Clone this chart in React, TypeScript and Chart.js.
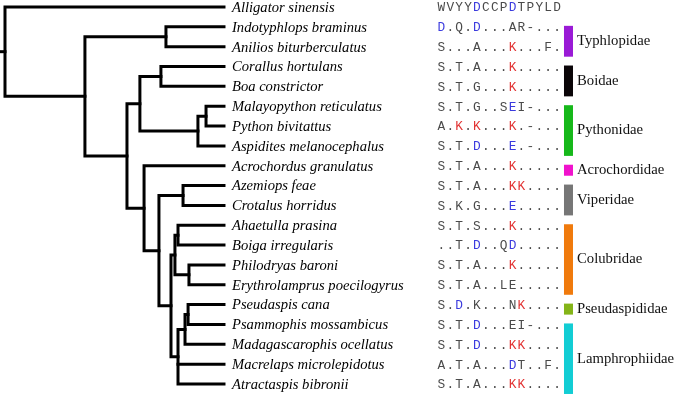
import React, { useEffect, useRef } from "react";
import Chart from "chart.js/auto";

const taxa = [
  "Alligator sinensis",
  "Indotyphlops braminus",
  "Anilios biturberculatus",
  "Corallus hortulans",
  "Boa constrictor",
  "Malayopython reticulatus",
  "Python bivitattus",
  "Aspidites melanocephalus",
  "Acrochordus granulatus",
  "Azemiops feae",
  "Crotalus horridus",
  "Ahaetulla prasina",
  "Boiga irregularis",
  "Philodryas baroni",
  "Erythrolamprus poecilogyrus",
  "Pseudaspis cana",
  "Psammophis mossambicus",
  "Madagascarophis ocellatus",
  "Macrelaps microlepidotus",
  "Atractaspis bibronii",
];

const alignment = [
  "WVYYDCCPDTPYLD",
  "D.Q.D...AR-...",
  "S...A...K...F.",
  "S.T.A...K.....",
  "S.T.G...K.....",
  "S.T.G..SEI-...",
  "A.K.K...K.-...",
  "S.T.D...E.-...",
  "S.T.A...K.....",
  "S.T.A...KK....",
  "S.K.G...E.....",
  "S.T.S...K.....",
  "..T.D..QD.....",
  "S.T.A...K.....",
  "S.T.A..LE.....",
  "S.D.K...NK....",
  "S.T.D...EI-...",
  "S.T.D...KK....",
  "A.T.A...DT..F.",
  "S.T.A...KK....",
];

// b = blue residue, r = red residue, . = default
const alignmentColors = [
  "....b...b.....",
  "b...b.........",
  "........r.....",
  "........r.....",
  "........r.....",
  "........b.....",
  "..r.r...r.....",
  "....b...b.....",
  "........r.....",
  "........rr....",
  "........b.....",
  "........r.....",
  "....b...b.....",
  "........r.....",
  "..............",
  "..b......r....",
  "....b.........",
  "....b...rr....",
  "........b.....",
  "........rr....",
];

const familyNames = ["Typhlopidae", "Boidae", "Pythonidae", "Acrochordidae", "Viperidae", "Colubridae", "Pseudaspididae", "Lamphrophiidae"];
const familyFirst = [1, 3, 5, 8, 9, 11, 15, 16];
const familyLast = [2, 4, 7, 8, 10, 14, 15, 19];
const familyColors = ["#9a1ad6", "#0a0508", "#16b81a", "#f012cc", "#767676", "#f07a0c", "#84b418", "#12cdd4"];

// tree: internal nodes with depth (root = 0, tips = 1) and children (tN = taxon row N)
const nodeIds = ["R", "N1", "T", "N2", "N3", "B", "Py", "Py2", "N4", "N5", "V", "N6", "C1", "C2", "C3", "L1", "L2", "L3"];
const nodeDepths = [0, 0.365, 0.735, 0.557, 0.616, 0.712, 0.881, 0.918, 0.635, 0.703, 0.813, 0.758, 0.776, 0.79, 0.84, 0.79, 0.822, 0.836];
const nodeChildren = [
  ["t0", "N1"],
  ["T", "N2"],
  ["t1", "t2"],
  ["N3", "N4"],
  ["B", "Py"],
  ["t3", "t4"],
  ["Py2", "t7"],
  ["t5", "t6"],
  ["t8", "N5"],
  ["V", "N6"],
  ["t9", "t10"],
  ["C1", "L1"],
  ["C2", "C3"],
  ["t11", "t12"],
  ["t13", "t14"],
  ["L2", "t18", "t19"],
  ["L3", "t17"],
  ["t15", "t16"],
];
const tipDepth = 1;
const rootStub = -0.018;

function depthOf(id: string): number {
  if (id.startsWith("t")) return tipDepth;
  return nodeDepths[nodeIds.indexOf(id)];
}
function yOf(id: string): number {
  if (id.startsWith("t")) return parseInt(id.slice(1), 10);
  const ch = nodeChildren[nodeIds.indexOf(id)];
  return (yOf(ch[0]) + yOf(ch[ch.length - 1])) / 2;
}

function buildDatasets() {
  const base = {
    borderColor: "#000",
    borderWidth: 3,
    pointRadius: 0,
    showLine: true,
    fill: false,
    tension: 0,
    borderJoinStyle: "miter" as const,
    borderCapStyle: "square" as const,
  };
  const ds: any[] = [];
  nodeIds.forEach((id, i) => {
    const ch = nodeChildren[i];
    const d = nodeDepths[i];
    const first = ch[0];
    const last = ch[ch.length - 1];
    ds.push({
      ...base,
      data: [
        { x: depthOf(first), y: yOf(first) },
        { x: d, y: yOf(first) },
        { x: d, y: yOf(last) },
        { x: depthOf(last), y: yOf(last) },
      ],
    });
    for (let k = 1; k < ch.length - 1; k++) {
      ds.push({ ...base, data: [{ x: d, y: yOf(ch[k]) }, { x: depthOf(ch[k]), y: yOf(ch[k]) }] });
    }
  });
  ds.push({ ...base, data: [{ x: rootStub, y: yOf("R") }, { x: 0, y: yOf("R") }] });
  return ds;
}

const textPlugin = {
  id: "treeText",
  afterDatasetsDraw(chart: any) {
    const ctx = chart.ctx;
    const xs = chart.scales.x;
    const ys = chart.scales.y;
    const tipPx = xs.getPixelForValue(tipDepth);
    ctx.save();
    // species names
    ctx.font = "italic 14.6px 'Liberation Serif'";
    ctx.fillStyle = "#000";
    ctx.textAlign = "left";
    ctx.textBaseline = "middle";
    taxa.forEach((t, i) => {
      ctx.fillText(t, tipPx + 8, ys.getPixelForValue(i) + 1);
    });
    // alignment
    ctx.font = "12.8px 'Liberation Mono'";
    const ax = tipPx + 213.5;
    const step = 8.9;
    alignment.forEach((s, i) => {
      const y = ys.getPixelForValue(i) + 1;
      for (let k = 0; k < s.length; k++) {
        const c = alignmentColors[i][k];
        ctx.fillStyle = c === "b" ? "#3a3ade" : c === "r" ? "#e23232" : "#4a4a4a";
        ctx.fillText(s[k], ax + k * step, y);
      }
    });
    // family bars and labels
    const bx = tipPx + 340;
    familyNames.forEach((n, i) => {
      const y0 = ys.getPixelForValue(familyFirst[i]) - 1;
      const y1 = ys.getPixelForValue(familyLast[i]) + 10;
      ctx.fillStyle = familyColors[i];
      ctx.fillRect(bx, y0, 9, y1 - y0);
      ctx.fillStyle = "#111";
      ctx.font = "14.7px 'Liberation Serif'";
      ctx.fillText(n, bx + 13, (y0 + y1) / 2);
    });
    ctx.restore();
  },
};

export default function App() {
  const ref = useRef<HTMLCanvasElement>(null);
  useEffect(() => {
    document.body.style.margin = "0";
    const chart = new Chart(ref.current as HTMLCanvasElement, {
      type: "scatter",
      data: { datasets: buildDatasets() },
      options: {
        animation: false,
        responsive: false,
        devicePixelRatio: 1,
        layout: { padding: 0 },
        events: [],
        plugins: { legend: { display: false }, tooltip: { enabled: false } },
        scales: {
          x: { type: "linear", display: false, min: -0.0228, max: 3.064 },
          y: { type: "linear", display: false, min: -0.353, max: 19.808, reverse: true },
        },
      },
      plugins: [textPlugin],
    });
    return () => chart.destroy();
  }, []);
  return (
    <div style={{ width: 676, height: 400, background: "#fff" }}>
      <canvas ref={ref} width={676} height={400} style={{ display: "block" }} />
    </div>
  );
}
